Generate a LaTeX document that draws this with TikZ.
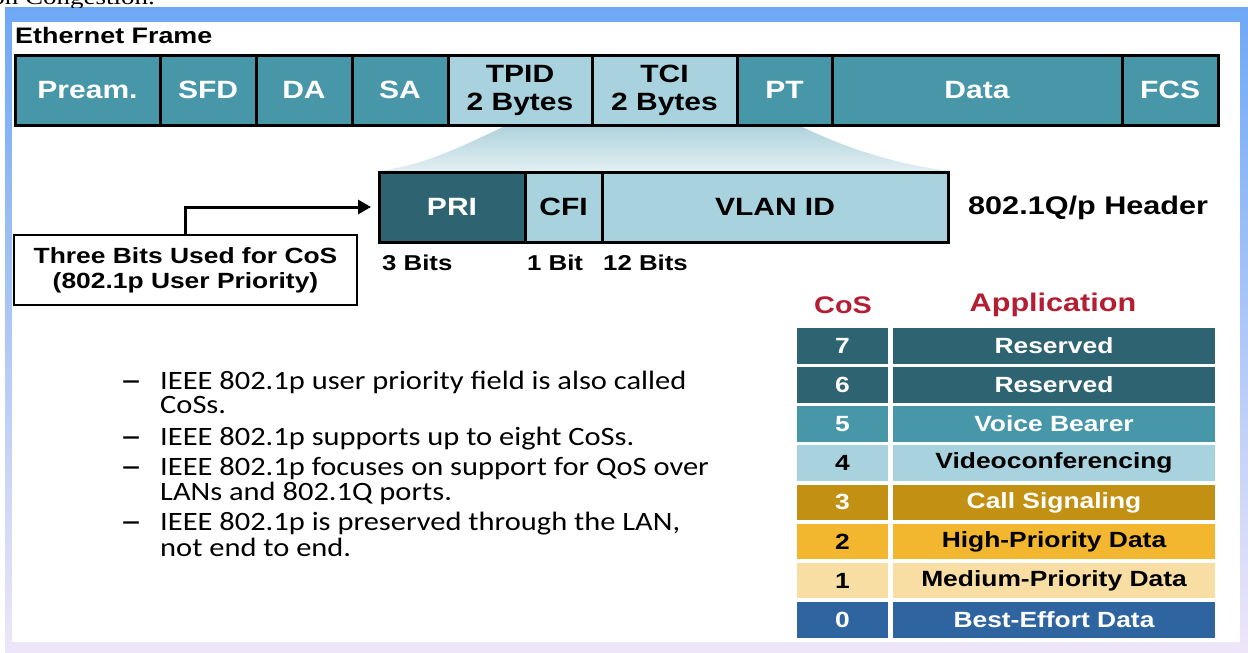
\documentclass[tikz,border=0pt]{standalone}
\usepackage{fontspec}
\setmainfont{Liberation Sans}[FakeStretch=1.2]
\newfontfamily\calibrifont{Carlito}[FakeStretch=1.15]
\newfontfamily\cutfont{Liberation Serif}[FakeStretch=1.2]
\usetikzlibrary{arrows.meta,positioning,calc}

\definecolor{frameteal}{RGB}{72,151,168}
\definecolor{lightteal}{RGB}{168,210,222}
\definecolor{darkteal}{RGB}{46,100,114}
\definecolor{darkgold}{RGB}{194,144,18}
\definecolor{midgold}{RGB}{242,183,46}
\definecolor{paletan}{RGB}{248,222,162}
\definecolor{effblue}{RGB}{46,101,160}
\definecolor{headred}{RGB}{180,30,50}
\definecolor{bordblue}{RGB}{110,168,245}
\definecolor{bordlav}{RGB}{238,230,248}
\definecolor{funtop}{RGB}{176,210,220}
\definecolor{funbot}{RGB}{226,239,243}

\newcommand{\itemdash}{\scalebox{1.45}[1]{\textbf{–}}}

\begin{document}
\begin{tikzpicture}[x=1pt, y=-1pt, >={Triangle[length=13pt,width=14pt]},
    fld/.style={draw=black, line width=3pt, fill=frameteal, text=white, outer sep=0pt,
      inner sep=0pt, minimum height=70pt, align=center,
      font=\bfseries\fontsize{25}{28}\selectfont},
    fldlight/.style={fld, fill=lightteal, text=black},
    bitlab/.style={anchor=base west, inner sep=0pt, font=\bfseries\fontsize{21.5}{24}\selectfont},
    cosnum/.style={minimum width=91pt, minimum height=35.5pt, inner sep=0pt, outer sep=0pt,
      text=white, font=\bfseries\fontsize{22}{24}\selectfont},
    cosapp/.style={cosnum, minimum width=322pt},
    head/.style={text=headred, inner sep=0pt, font=\bfseries\fontsize{24}{26}\selectfont}]
  \useasboundingbox (0,0) rectangle (1248,653);
  % ---- slide frame
  \shade[top color=bordblue, middle color=bordblue!75!bordlav, bottom color=bordlav]
    (5,7) rectangle (1248,653);
  \fill[white] (12,22) rectangle (1240,642);
  \begin{scope}
    \clip (0,0) rectangle (1248,7);
    \node[anchor=base east, inner sep=0pt, font=\cutfont\fontsize{22.5}{24}\selectfont]
      (cuttext) at (155,5) {on Congestion.};
  \end{scope}
  % ---- funnel from TCI to the header
  \shade[top color=funtop, bottom color=funbot]
    (505,126) .. controls (455,150) and (420,166) .. (378,171) -- (950,171)
    .. controls (900,165) and (850,150) .. (800,126) -- cycle;
  % ---- Ethernet frame
  \node[anchor=base west, inner sep=0pt, font=\bfseries\fontsize{22.4}{24}\selectfont]
    (ftitle) at (15,43) {Ethernet Frame};
  \node[fld, minimum width=145pt] (pream) at (87.5,90) {Pream.};
  \node[fld, minimum width=96pt] (sfd) at (208,90) {SFD};
  \node[fld, minimum width=96pt] (da) at (304,90) {DA};
  \node[fld, minimum width=96pt] (sa) at (400,90) {SA};
  \node[fldlight, minimum width=144pt] (tpid) at (520,90) {TPID\\2 Bytes};
  \node[fldlight, minimum width=145pt] (tci) at (664.5,90) {TCI\\2 Bytes};
  \node[fld, minimum width=95pt] (pt) at (784.5,90) {PT};
  \node[fld, minimum width=290pt] (data) at (977,90) {Data};
  \node[fld, minimum width=96pt] (fcs) at (1170,90) {FCS};
  % ---- 802.1Q/p header
  \node[fld, fill=darkteal, minimum width=146pt] (pri) at (452,207) {PRI};
  \node[fldlight, minimum width=77pt] (cfi) at (563.5,207) {CFI};
  \node[fldlight, minimum width=346pt] (vlan) at (775,207) {VLAN ID};
  \node[bitlab] (bits3) at (382,270) {3 Bits};
  \node[bitlab] (bits1) at (527,270) {1 Bit};
  \node[bitlab] (bits12) at (603,270) {12 Bits};
  \node[anchor=west, inner sep=0pt, font=\bfseries\fontsize{25.5}{28}\selectfont]
    (hdr) at (968,208) {802.1Q/p Header};
  \node[draw=black, line width=2.5pt, fill=white, minimum width=343pt, minimum height=70pt,
    inner sep=0pt, align=center, font=\bfseries\fontsize{22}{25}\selectfont]
    (cosbox) at (185.5,270) {Three Bits Used for CoS\\(802.1p User Priority)};
  \draw[line width=3pt, ->, shorten >=8pt] (cosbox.north) |- (pri.west);
  % ---- bullets
  \node[anchor=base west, inner sep=0pt, font=\calibrifont\fontsize{26.5}{24}\selectfont]
    (bullets) at (120,389) {\begin{tabular}[t]{@{}p{40pt}@{}l@{}}
      \itemdash & IEEE 802.1p user priority field is also called\\
        & CoSs.\\[6pt]
      \itemdash & IEEE 802.1p supports up to eight CoSs.\\[5pt]
      \itemdash & IEEE 802.1p focuses on support for QoS over\\
        & LANs and 802.1Q ports.\\[4pt]
      \itemdash & IEEE 802.1p is preserved through the LAN,\\
        & not end to end.
    \end{tabular}};
  % ---- CoS table
  \node[head] (coshead) at (843,305) {CoS};
  \node[head, font=\bfseries\fontsize{25.5}{28}\selectfont] (apphead) at (1053,305) {Application};
  \node[cosnum, fill=darkteal] (c7) at (842.5,345.8) {7};
  \node[cosapp, fill=darkteal] (a7) at (1054,345.8) {Reserved};
  \node[cosnum, fill=darkteal] (c6) at (842.5,384.9) {6};
  \node[cosapp, fill=darkteal] (a6) at (1054,384.9) {Reserved};
  \node[cosnum, fill=frameteal] (c5) at (842.5,424.1) {5};
  \node[cosapp, fill=frameteal] (a5) at (1054,424.1) {Voice Bearer};
  \node[cosnum, fill=lightteal, text=black] (c4) at (842.5,463.2) {4};
  \node[cosapp, fill=lightteal, text=black] (a4) at (1054,463.2) {Videoconferencing};
  \node[cosnum, fill=darkgold] (c3) at (842.5,502.4) {3};
  \node[cosapp, fill=darkgold] (a3) at (1054,502.4) {Call Signaling};
  \node[cosnum, fill=midgold, text=black] (c2) at (842.5,541.5) {2};
  \node[cosapp, fill=midgold, text=black] (a2) at (1054,541.5) {High-Priority Data};
  \node[cosnum, fill=paletan, text=black] (c1) at (842.5,580.7) {1};
  \node[cosapp, fill=paletan, text=black] (a1) at (1054,580.7) {Medium-Priority Data};
  \node[cosnum, fill=effblue] (c0) at (842.5,619.8) {0};
  \node[cosapp, fill=effblue] (a0) at (1054,619.8) {Best-Effort Data};
\end{tikzpicture}
\end{document}
